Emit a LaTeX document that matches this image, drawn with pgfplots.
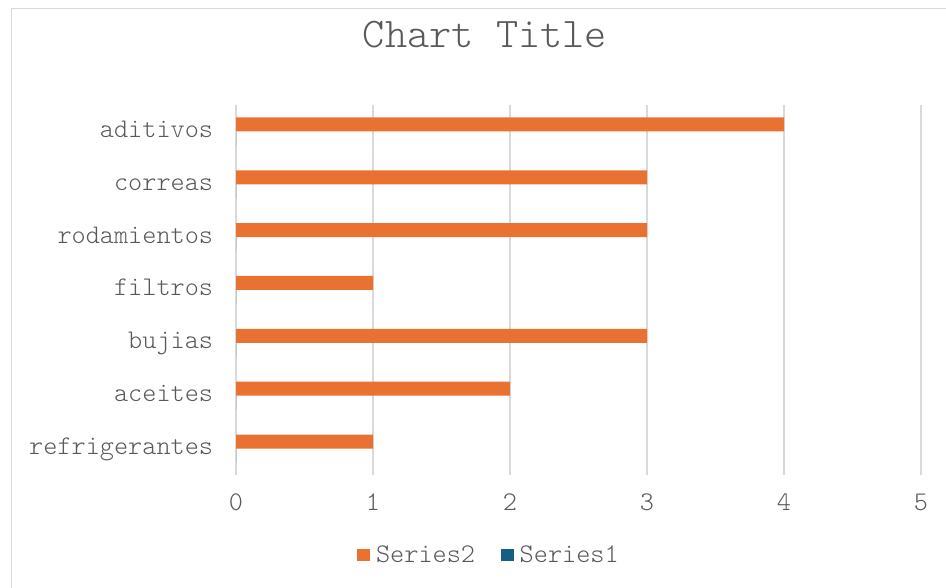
\documentclass[border=0pt]{standalone}
\usepackage{pgfplots}
\pgfplotsset{compat=1.18}
\usepackage{fontspec}
\setmainfont{lmmonolt10-regular}[Extension=.otf]
\definecolor{txt}{HTML}{595959}
\definecolor{grd}{HTML}{D9D9D9}
\definecolor{sOne}{HTML}{156082}
\definecolor{sTwo}{HTML}{E97132}
\begin{document}
\begin{tikzpicture}
\path[use as bounding box] (0pt,0pt) rectangle (709.5pt,441pt);
\draw[grd, line width=0.75pt] (8.25pt,-20pt) rectangle (720pt,434.25pt);
\node[text=txt, font=\fontsize{31.7}{36}\selectfont] at (363.75pt,414.75pt) {Chart Title};
\begin{axis}[
  at={(177pt,84.75pt)}, anchor=south west,
  scale only axis, width=513.75pt, height=277.5pt,
  xbar, bar width=0.265,
  xmin=0, xmax=5, ymin=-0.5, ymax=6.5,
  xtick={0,...,5}, ytick={0,...,6},
  yticklabels={refrigerantes,aceites,bujias,filtros,rodamientos,correas,aditivos},
  axis line style={draw=none},
  major tick length=0pt,
  xmajorgrids, major grid style={grd, line width=1.2pt},
  tick label style={text=txt, font=\fontsize{20.2}{24}\selectfont},
  /pgf/number format/assume math mode=true,
  xticklabel style={inner sep=0pt, yshift=-14pt, anchor=north},
  yticklabel style={inner sep=0pt, xshift=-17pt, yshift=-2.4pt, anchor=east, text height=0.42em, text depth=0pt},
  legend columns=2,
  legend style={at={(0.368,-0.216)}, anchor=center, draw=none, fill=none,
    font=\fontsize{20.2}{24}\selectfont, text=txt,
    nodes={inner sep=0pt}, column sep=4.5pt,
    /tikz/every even column/.append style={column sep=19.5pt}},
  legend image code/.code={\fill[#1] (0pt,-4.75pt) rectangle (9.5pt,4.75pt);},
]
\addplot[fill=sTwo, draw=none, bar shift=0.1325] coordinates {
  (1,0) (2,1) (3,2) (1,3) (3,4) (3,5) (4,6)};
\addplot[fill=sOne, draw=none, bar shift=-0.1325] coordinates {
  (0,0) (0,1) (0,2) (0,3) (0,4) (0,5) (0,6)};
\legend{Series2,Series1}
\end{axis}
\end{tikzpicture}
\end{document}
